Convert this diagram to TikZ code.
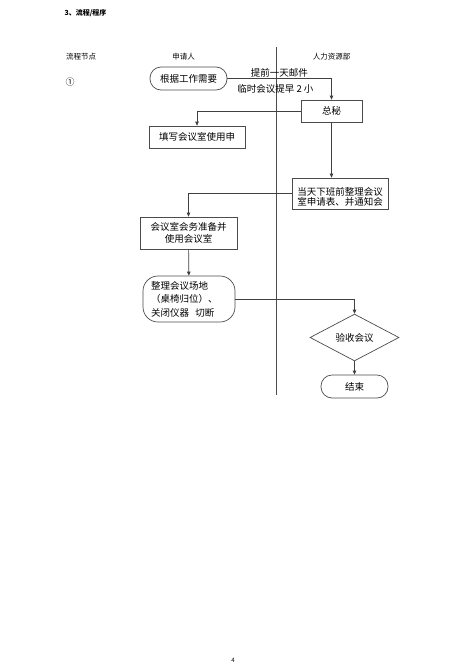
\documentclass[tikz,border=0pt]{standalone}
\usepackage{fontspec}
\setmainfont{Noto Sans CJK SC}
\usetikzlibrary{arrows.meta, shapes.geometric, positioning}

\tikzset{
  flow/.style={draw=black!75, line width=0.7pt, -{Triangle[length=4pt,width=3.5pt]}},
  box/.style={draw=black!70, line width=0.7pt, rectangle, inner sep=1pt, font=\fontsize{9.5}{12}\selectfont},
  term/.style={box, rounded corners=11pt},
  check/.style={draw=black!70, line width=0.7pt, diamond, inner sep=0pt, minimum width=89pt, minimum height=41pt, font=\fontsize{9.5}{12}\selectfont},
  head/.style={font=\fontsize{7.5}{9}\selectfont},
  edgetext/.style={font=\fontsize{9.5}{11}\selectfont, inner sep=0pt},
}

\begin{document}
\begin{tikzpicture}[x=1pt, y=-1pt]
    \useasboundingbox[fill=white] (0,0) rectangle (475,672);

    % Title and column heads
    \node[font=\bfseries\fontsize{7}{8}\selectfont, anchor=west] (title) at (61,13) {3、流程/程序};
    \node[head] (h0) at (81,57) {流程节点};
    \node[head] (h1) at (183.5,57) {申请人};
    \node[head] (h2) at (331.5,57) {人力资源部};
    \node[font=\fontsize{9}{10}\selectfont] (n1) at (70,82) {①};

    % Lane separator
    \coordinate (laneTop) at (276,47);
    \coordinate (laneBot) at (276,395);
    \draw[line width=0.9pt, black!70] (laneTop) -- (laneBot);

    % Steps
    \node[term, minimum width=77pt, minimum height=23pt] (need) at (188.5,78.5) {根据工作需要};
    \node[box, minimum width=61pt, minimum height=22pt] (sec) at (331.5,111) {总秘};
    \node[box, minimum width=96pt, minimum height=22pt] (apply) at (197,137) {填写会议室使用申};
    \node[box, minimum width=96pt, minimum height=31pt, align=center] (notice) at (340,193.5)
        {\raisebox{-4.5pt}[\height][\depth]{\begin{tabular}{@{}c@{}}当天下班前整理会议\\[-1.5pt]室申请表、并通知会\end{tabular}}};
    \node[box, minimum width=97pt, minimum height=32pt, align=center] (prep) at (188.5,233) {会议室会务准备并\\使用会议室};
    \node[term, rounded corners=15pt, minimum width=92pt, minimum height=46pt, text width=76pt, align=left,
          font=\fontsize{9.5}{13.5}\selectfont] (tidy) at (189,299) {整理会议场地\\（桌椅归位）、\\关闭仪器\ \ 切断};
    \node[check] (accept) at (354.5,337.5) {验收会议};
    \node[term, minimum width=67pt, minimum height=23pt] (end) at (354.5,386.5) {结束};

    % Connectors
    \draw[flow] (need.east) -| (sec.north)
        node[edgetext, pos=0.25, yshift=5.5pt] {提前一天邮件}
        node[edgetext, pos=0.25, yshift=-10.5pt, xshift=-4pt] {临时会议提早 2 小};
    \draw[flow] (sec.west) -| (apply.north);
    \draw[flow] (sec.south) -- (sec.south |- notice.north);
    \draw[flow] (notice.west) -| (prep.north);
    \draw[flow] (prep) -- (tidy);
    \draw[flow] (tidy.east) -| (accept.north);
    \draw[flow] (accept) -- (end);

    % Page number
    \node[font=\fontsize{6}{7}\selectfont] (page) at (233,660) {4};
\end{tikzpicture}
\end{document}
